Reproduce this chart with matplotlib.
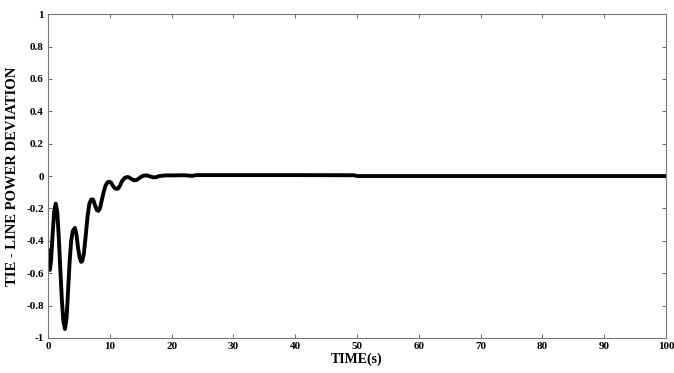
import matplotlib.pyplot as plt

# tie-line power deviation
time_s = [0, 0.15, 0.3, 0.5, 0.75, 1.0, 1.25, 1.5, 1.75, 2.0, 2.25, 2.5, 2.75,
          3.0, 3.25, 3.5, 3.75, 4.0, 4.35, 4.6, 4.85, 5.1, 5.35, 5.55, 5.8,
          6.1, 6.4, 6.7, 7.0, 7.3, 7.6, 7.9, 8.15, 8.4, 8.7, 9.0, 9.3, 9.6,
          9.9, 10.2, 10.5, 10.8, 11.1, 11.4, 11.7, 12.0, 12.4, 12.8, 13.1,
          13.5, 13.9, 14.3, 14.7, 15.1, 15.5, 16.0, 16.5, 17.0, 17.5, 18.0,
          19.0, 20.0, 22.0, 22.8, 23.3, 24.0, 30.0, 40.0, 49.5, 50.0, 60.0,
          80.0, 100.0]
deviation = [-0.46, -0.55, -0.58, -0.52, -0.36, -0.22, -0.17, -0.22, -0.38,
             -0.58, -0.77, -0.90, -0.945, -0.88, -0.71, -0.53, -0.40, -0.34,
             -0.32, -0.36, -0.44, -0.50, -0.53, -0.525, -0.48, -0.37, -0.25,
             -0.17, -0.145, -0.145, -0.18, -0.21, -0.215, -0.20, -0.15, -0.10,
             -0.06, -0.04, -0.035, -0.04, -0.06, -0.075, -0.08, -0.075, -0.055,
             -0.03, -0.012, -0.006, -0.008, -0.018, -0.026, -0.025, -0.015,
             -0.004, 0.003, 0.004, -0.002, -0.008, -0.007, 0.0, 0.004, 0.004,
             0.005, 0.003, 0.001, 0.006, 0.006, 0.006, 0.005, 0.0, 0.0, 0.0, 0.0]

x_ticks = [0, 10, 20, 30, 40, 50, 60, 70, 80, 90, 100]
y_ticks = [-1, -0.8, -0.6, -0.4, -0.2, 0, 0.2, 0.4, 0.6, 0.8, 1]
y_labels = ['-1', '-0.8', '-0.6', '-0.4', '-0.2', '0', '0.2', '0.4', '0.6', '0.8', '1']

plt.rcParams['font.family'] = ['Liberation Serif', 'DejaVu Serif']

fig = plt.figure(figsize=(6.74, 3.73), dpi=100)
ax = fig.add_axes([0.0712, 0.094, 0.917, 0.868])

ax.plot(time_s, deviation, color='black', linewidth=2.8)

ax.set_xlim(0, 100)
ax.set_ylim(-1, 1)
ax.set_xticks(x_ticks)
ax.set_xticklabels([str(v) for v in x_ticks], fontsize=8, fontweight='bold')
ax.set_yticks(y_ticks)
ax.set_yticklabels(y_labels, fontsize=8, fontweight='bold')
ax.tick_params(direction='in', top=True, right=True, length=3, width=0.6,
               color='#555555', pad=3)

for sp in ax.spines.values():
    sp.set_color('#777777')
    sp.set_linewidth(0.8)

ax.set_xlabel('TIME(s)', fontsize=10, fontweight='bold', labelpad=1)
ax.set_ylabel('TIE - LINE POWER DEVIATION', fontsize=10.5, fontweight='bold', labelpad=5)

fig.savefig('out.png', dpi=100, facecolor='white')
